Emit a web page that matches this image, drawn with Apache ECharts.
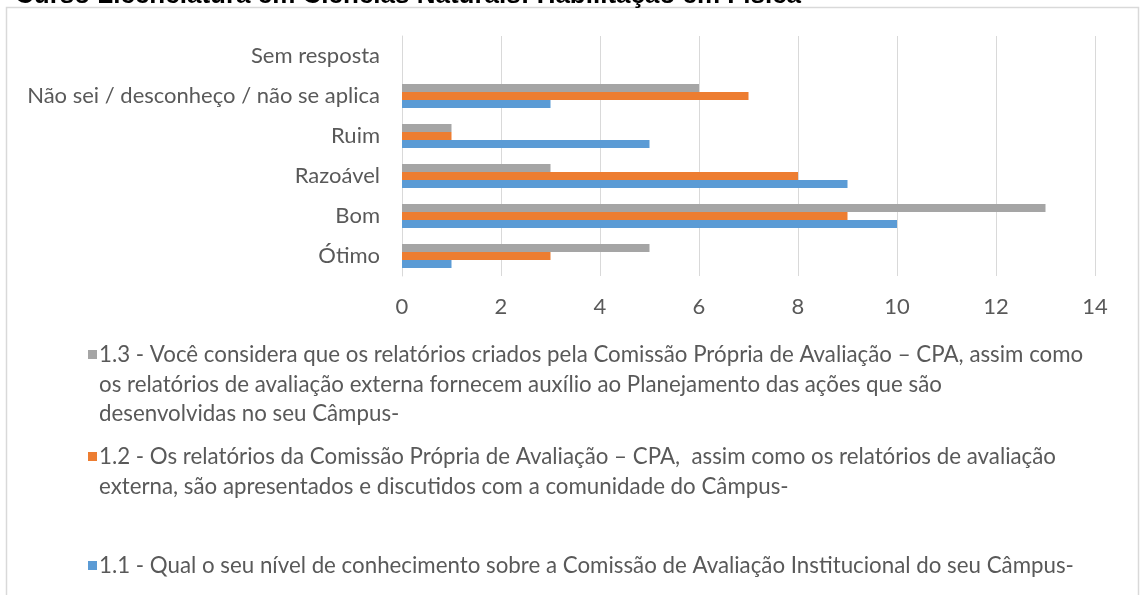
<!DOCTYPE html>
<html>
<head>
<meta charset="utf-8">
<script src="https://cdn.jsdelivr.net/npm/echarts@6/dist/echarts.min.js"></script>
<style>
  html, body { margin: 0; padding: 0; background: #ffffff; }
  #chart { width: 1141px; height: 595px; }
</style>
</head>
<body>
<div id="chart"></div>
<script>
// Response categories, listed bottom-to-top on the vertical axis
const categories = ['Ótimo', 'Bom', 'Razoável', 'Ruim', 'Não sei / desconheço / não se aplica', 'Sem resposta'];

// Number of answers per category for each question
const q13Values = [5, 13, 3, 1, 6, 0];
const q12Values = [3, 9, 8, 1, 7, 0];
const q11Values = [1, 10, 9, 5, 3, 0];

const q13Name = '1.3 - Você considera que os relatórios criados pela Comissão Própria de Avaliação – CPA, assim como os relatórios de avaliação externa fornecem auxílio ao Planejamento das ações que são desenvolvidas no seu Câmpus-';
const q12Name = '1.2 - Os relatórios da Comissão Própria de Avaliação – CPA,  assim como os relatórios de avaliação externa, são apresentados e discutidos com a comunidade do Câmpus-';
const q11Name = '1.1 - Qual o seu nível de conhecimento sobre a Comissão de Avaliação Institucional do seu Câmpus-';

// Legend text, wrapped line by line
const q13Lines = [
  '1.3 - Você considera que os relatórios criados pela Comissão Própria de Avaliação – CPA, assim como',
  'os relatórios de avaliação externa fornecem auxílio ao Planejamento das ações que são',
  'desenvolvidas no seu Câmpus-'
];
const q12Lines = [
  '1.2 - Os relatórios da Comissão Própria de Avaliação – CPA,  assim como os relatórios de avaliação',
  'externa, são apresentados e discutidos com a comunidade do Câmpus-'
];
const q11Lines = [
  '1.1 - Qual o seu nível de conhecimento sobre a Comissão de Avaliação Institucional do seu Câmpus-'
];

const xTicks = { min: 0, max: 14, interval: 2 };

const titleText = 'Curso Licenciatura em Ciências Naturais: Habilitação em Física';

const COLORS = { q13: '#a5a5a5', q12: '#ed7d31', q11: '#5b9bd5' };
const FONT = 'Lato, "Open Sans", sans-serif';
const TEXT_COLOR = '#595959';

const chart = echarts.init(document.getElementById('chart'), null, { renderer: 'canvas' });

// Legend entries: swatch + wrapped lines
function legendEntry(color, lines, top) {
  const children = [{
    type: 'rect',
    shape: { x: 88, y: top - 5, width: 9, height: 9 },
    style: { fill: color }
  }];
  lines.forEach((line, i) => {
    children.push({
      type: 'text',
      x: 99,
      y: top + i * 29.5,
      style: {
        text: line,
        fill: TEXT_COLOR,
        font: '22.3px ' + FONT,
        textVerticalAlign: 'middle',
        textAlign: 'left'
      }
    });
  });
  return { type: 'group', children };
}

const option = {
  backgroundColor: '#ffffff',
  animation: false,
  grid: { left: 402, right: 46, top: 36, height: 240, containLabel: false },
  xAxis: {
    type: 'value',
    min: xTicks.min,
    max: xTicks.max,
    interval: xTicks.interval,
    axisLine: { show: false },
    axisTick: { show: false },
    splitLine: { show: true, lineStyle: { color: '#d9d9d9', width: 1 } },
    axisLabel: { color: TEXT_COLOR, fontSize: 22, fontFamily: FONT, margin: 20 }
  },
  yAxis: {
    type: 'category',
    data: categories,
    axisLine: { show: true, lineStyle: { color: '#d9d9d9', width: 1 } },
    axisTick: { show: false },
    axisLabel: { color: TEXT_COLOR, fontSize: 22, fontFamily: FONT, margin: 22 }
  },
  series: [
    { name: q13Name, type: 'bar', data: q13Values, barWidth: 8, barGap: '0%', itemStyle: { color: COLORS.q13 } },
    { name: q12Name, type: 'bar', data: q12Values, barWidth: 8, barGap: '0%', itemStyle: { color: COLORS.q12 } },
    { name: q11Name, type: 'bar', data: q11Values, barWidth: 8, barGap: '0%', itemStyle: { color: COLORS.q11 } }
  ],
  graphic: [
    // outer frame of the chart area
    {
      type: 'rect',
      shape: { x: 6.5, y: 7.5, width: 1132, height: 620 },
      style: { fill: 'none', stroke: '#d9d9d9', lineWidth: 1.5 },
      silent: true
    },
    // page heading above the frame, mostly clipped by the top edge
    {
      type: 'text',
      x: 15,
      y: 8.5,
      style: {
        text: titleText,
        fill: '#000000',
        font: 'bold 26px "Liberation Sans", Arial, sans-serif',
        textVerticalAlign: 'bottom',
        textAlign: 'left'
      }
    },
    legendEntry(COLORS.q13, q13Lines, 355),
    legendEntry(COLORS.q12, q12Lines, 457),
    legendEntry(COLORS.q11, q11Lines, 566)
  ]
};

chart.setOption(option);
</script>
</body>
</html>
